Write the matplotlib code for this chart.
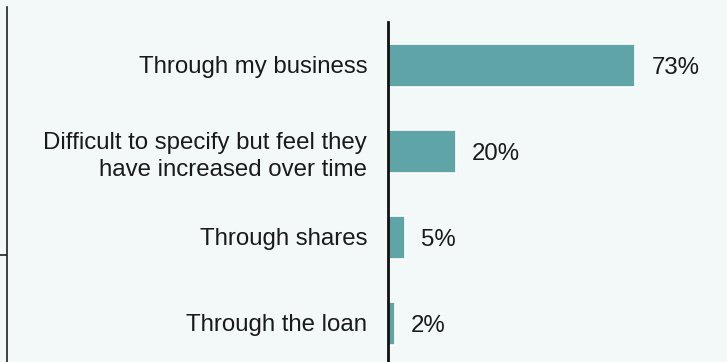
import matplotlib.pyplot as plt

categories = [
    "Through my business",
    "Difficult to specify but feel they\nhave increased over time",
    "Through shares",
    "Through the loan",
]
values = [73, 20, 5, 2]
value_labels = ["73%", "20%", "5%", "2%"]

bg = "#f3f8f8"
bar_color = "#5fa5a8"
text_color = "#1a1a1a"

plt.rcParams["font.family"] = ["Liberation Sans", "DejaVu Sans"]

fig = plt.figure(figsize=(7.27, 3.62), dpi=100, facecolor=bg)

# main bar axes
ax = fig.add_axes([388 / 727, -4 / 362, 339 / 727, 344 / 362])
ax.set_facecolor(bg)
ypos = list(range(len(categories)))
ax.barh(ypos, values, height=0.5, color=bar_color, edgecolor="white", linewidth=1.2)
ax.set_ylim(len(categories) - 0.5, -0.5)
ax.set_xlim(0, 100)
for s in ["top", "right", "bottom"]:
    ax.spines[s].set_visible(False)
ax.spines["left"].set_linewidth(2)
ax.spines["left"].set_color("#111111")
ax.set_xticks([])
ax.set_yticks(ypos)
ax.set_yticklabels(categories, fontsize=17.3, color=text_color, ha="right",
                   linespacing=1.35)
ax.tick_params(axis="y", length=0, pad=15)
for y, v, lab in zip(ypos, values, value_labels):
    ax.text(v + 4.7, y, lab, va="center_baseline", ha="left", fontsize=17.3,
            color=text_color)

# stray axis at the far left
ax2 = fig.add_axes([7 / 727, 0 / 362, 1 / 727, 355 / 362])
ax2.set_facecolor("none")
for s in ["top", "right", "bottom"]:
    ax2.spines[s].set_visible(False)
ax2.spines["left"].set_linewidth(1.2)
ax2.spines["left"].set_color("#222222")
ax2.set_ylim(0, 355)
ax2.set_xticks([])
ax2.set_yticks([107])
ax2.set_yticklabels([""])
ax2.tick_params(axis="y", length=8, width=1.2, color="#222222")

fig.savefig("out.png", dpi=100, facecolor=bg)
